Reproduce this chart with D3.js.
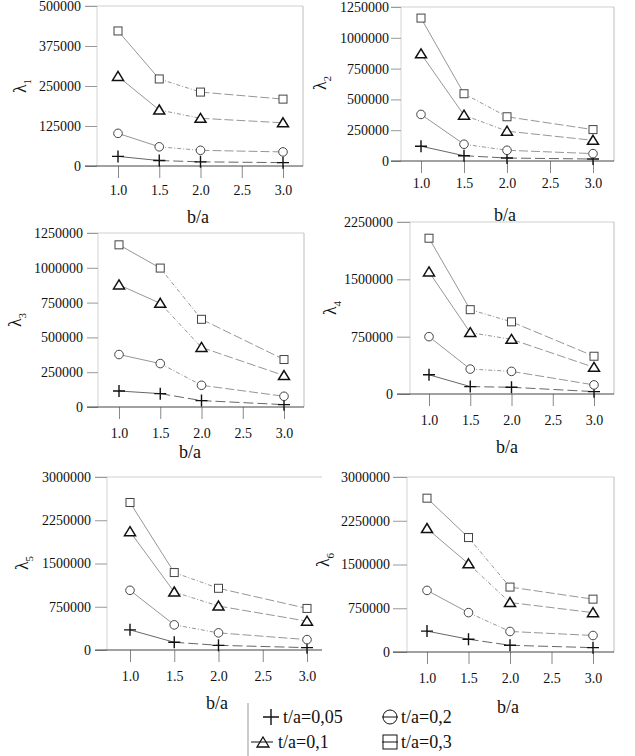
<!DOCTYPE html>
<html>
<head>
<meta charset="utf-8">
<script src="https://cdn.jsdelivr.net/npm/d3@7"></script>
<style>
  body { margin: 0; background: #fff; }
  svg { display: block; }
  svg text { font-family: "Liberation Serif", "Times New Roman", "DejaVu Serif", serif !important; }
</style>
</head>
<body>
<div id="chart"></div>
<script>
// b/a values on the x axis and the tick labels
const xValues = [1.0, 1.5, 2.0, 3.0];
const xTicks = [1.0, 1.5, 2.0, 2.5, 3.0];

// series order: t/a=0,05 (+), t/a=0,1 (triangle), t/a=0,2 (circle), t/a=0,3 (square)
const seriesNames = ["t/a=0,05", "t/a=0,1", "t/a=0,2", "t/a=0,3"];
const seriesMarks = ["plus", "triangle", "circle", "square"];

const lambda1 = [
  [30000, 17000, 13000, 10500],
  [280000, 175000, 149000, 135000],
  [102000, 60000, 49000, 44000],
  [422000, 272000, 231000, 209000]
];
const lambda2 = [
  [120000, 43000, 24000, 16000],
  [870000, 372000, 242000, 168000],
  [378000, 136000, 87000, 60000],
  [1160000, 546000, 359000, 255000]
];
const lambda3 = [
  [115000, 96000, 46000, 17000],
  [877000, 745000, 428000, 226000],
  [377000, 312000, 156000, 77000],
  [1165000, 998000, 630000, 341000]
];
const lambda4 = [
  [251000, 97000, 88000, 31000],
  [1597000, 803000, 715000, 349000],
  [750000, 326000, 296000, 119000],
  [2038000, 1103000, 944000, 494000]
];
const lambda5 = [
  [349000, 134000, 81000, 41000],
  [2052000, 1006000, 762000, 500000],
  [1035000, 436000, 297000, 180000],
  [2558000, 1343000, 1070000, 721000]
];
const lambda6 = [
  [358000, 219000, 115000, 75000],
  [2117000, 1512000, 848000, 675000],
  [1056000, 675000, 352000, 283000],
  [2637000, 1962000, 1113000, 906000]
];

const yTicks1 = [0, 125000, 250000, 375000, 500000];
const yTicks23 = [0, 250000, 500000, 750000, 1000000, 1250000];
const yTicks4 = [0, 750000, 1500000, 2250000];
const yTicks56 = [0, 750000, 1500000, 2250000, 3000000];

// panel layout (pixels) - kept apart from the data
const PANELS = [
  {data: lambda1, ticks: yTicks1, sub: "1", xr: [118, 283], yr: [166, 6], left: 97, right: 303, tick: 12, pad: 4, xpad: 7, lab: [20, 86], ba: [198, 217]},
  {data: lambda2, ticks: yTicks23, sub: "2", xr: [421, 593], yr: [161, 7], left: 401, right: 614, tick: 10, pad: 2, xpad: 5, lab: [320, 83], ba: [505, 215]},
  {data: lambda3, ticks: yTicks23, sub: "3", xr: [119, 284], yr: [407, 233], left: 98, right: 304, tick: 11, pad: 4, xpad: 9, lab: [15, 320], ba: [190, 452]},
  {data: lambda4, ticks: yTicks4, sub: "4", xr: [429, 594], yr: [394, 222], left: 410, right: 614, tick: 13, pad: 4, xpad: 9, lab: [330, 308], ba: [507, 447]},
  {data: lambda5, ticks: yTicks56, sub: "5", xr: [130, 307], yr: [650, 477], left: 107, right: 322, tick: 12, pad: 4, xpad: 9, lab: [22, 563], ba: [217, 703], noRight: true},
  {data: lambda6, ticks: yTicks56, sub: "6", xr: [427, 593], yr: [652, 477], left: 407, right: 614, tick: 14, pad: 3, xpad: 9, lab: [323, 560], ba: [508, 707]}
];

const segDash = [null, "4,2,1,2", "9,3"];

const svg = d3.select("#chart").append("svg")
  .attr("width", 635)
  .attr("height", 756);

function drawMark(g, type, x, y) {
  if (type == "plus") {
    g.append("path").attr("d", `M${x-6},${y}H${x+6}M${x},${y-6}V${y+6}`)
      .attr("stroke", "#111").attr("stroke-width", 1.4).attr("fill", "none");
  } else if (type == "triangle") {
    g.append("path").attr("d", `M${x},${y-5}L${x+5.5},${y+4}L${x-5.5},${y+4}Z`)
      .attr("stroke", "#111").attr("stroke-width", 1.5).attr("fill", "#fff");
  } else if (type == "circle") {
    g.append("circle").attr("cx", x).attr("cy", y).attr("r", 4.3)
      .attr("stroke", "#444").attr("stroke-width", 1).attr("fill", "#fff");
  } else {
    g.append("rect").attr("x", x-4).attr("y", y-4).attr("width", 8).attr("height", 8)
      .attr("stroke", "#444").attr("stroke-width", 1).attr("fill", "#fff");
  }
}

PANELS.forEach((p) => {
  const X = d3.scaleLinear().domain([1, 3]).range(p.xr);
  const Y = d3.scaleLinear().domain([0, d3.max(p.ticks)]).range(p.yr);
  const g = svg.append("g");
  const y0 = Y(0), yTop = Y(d3.max(p.ticks));

  // light frame
  g.append("line").attr("x1", p.left).attr("x2", p.left).attr("y1", yTop).attr("y2", y0)
    .attr("stroke", "#d4d4d4");
  g.append("line").attr("x1", p.left - p.tick).attr("x2", p.right).attr("y1", yTop).attr("y2", yTop)
    .attr("stroke", "#cfcfcf");
  if (!p.noRight) {
    g.append("line").attr("x1", p.right).attr("x2", p.right).attr("y1", yTop).attr("y2", y0)
      .attr("stroke", "#bdbdbd");
  }

  // y axis
  const ya = g.append("g")
    .attr("transform", `translate(${p.left},0)`)
    .call(d3.axisLeft(Y).tickValues(p.ticks).tickSize(p.tick).tickPadding(p.pad).tickFormat(d3.format("d")));
  ya.attr("font-family", null);
  ya.select(".domain").remove();
  ya.selectAll("line").attr("stroke", "#999");
  ya.selectAll("text").attr("font-size", "14px").attr("fill", "#111");

  // x axis
  const xa = g.append("g")
    .attr("transform", `translate(0,${y0})`)
    .call(d3.axisBottom(X).tickValues(xTicks).tickSize(12).tickPadding(p.xpad).tickFormat(d3.format(".1f")));
  xa.attr("font-family", null);
  xa.select(".domain").remove();
  xa.selectAll("line").attr("stroke", "#888");
  xa.selectAll("text").attr("font-size", "14px").attr("fill", "#111");
  g.append("line").attr("x1", p.left - p.tick).attr("x2", p.right).attr("y1", y0).attr("y2", y0)
    .attr("stroke", "#444");

  // lines + marks
  p.data.forEach((vals, si) => {
    for (let i = 0; i < vals.length - 1; i++) {
      g.append("line")
        .attr("x1", X(xValues[i])).attr("y1", Y(vals[i]))
        .attr("x2", X(xValues[i+1])).attr("y2", Y(vals[i+1]))
        .attr("stroke", si == 0 ? "#555" : "#8a8a8a")
        .attr("stroke-width", 0.9)
        .attr("stroke-dasharray", si == 0 && i > 0 ? "10,4" : segDash[i]);
    }
    vals.forEach((v, i) => drawMark(g, seriesMarks[si], X(xValues[i]), Y(v)));
  });

  // labels
  const lt = g.append("text")
    .attr("transform", `translate(${p.lab[0]},${p.lab[1]}) rotate(-90)`)
    .attr("text-anchor", "middle").attr("dy", "0.35em")
    .attr("font-size", "18px").attr("fill", "#111");
  lt.append("tspan").text("λ");
  lt.append("tspan").attr("font-size", "11px").attr("dy", "0.45em").text(p.sub);

  g.append("text").attr("x", p.ba[0]).attr("y", p.ba[1]).attr("dy", "0.35em")
    .attr("text-anchor", "middle").attr("font-size", "18px").attr("fill", "#111").text("b/a");
});

// legend
const lg = svg.append("g");
lg.append("line").attr("x1", 248).attr("x2", 248).attr("y1", 703).attr("y2", 756).attr("stroke", "#999");
const legendPos = [[271, 717, 283], [263, 742, 278], [390, 717, 401], [390, 742, 401]];
seriesNames.forEach((name, i) => {
  const [mx, my, tx] = legendPos[i];
  if (i > 0) {
    lg.append("line").attr("x1", mx - (i == 1 ? 12 : 8)).attr("x2", mx + (i == 1 ? 10 : 8))
      .attr("y1", my).attr("y2", my).attr("stroke", "#111").attr("stroke-width", 1);
  }
  if (i == 0) {
    lg.append("path").attr("d", `M${mx-8},${my}H${mx+8}M${mx},${my-8}V${my+8}`)
      .attr("stroke", "#111").attr("stroke-width", 1.4);
  } else if (i == 1) {
    lg.append("path").attr("d", `M${mx},${my-5}L${mx+6},${my+5}L${mx-6},${my+5}Z`)
      .attr("stroke", "#111").attr("stroke-width", 1.3).attr("fill", "none");
  } else if (i == 2) {
    lg.append("circle").attr("cx", mx).attr("cy", my).attr("r", 7)
      .attr("stroke", "#111").attr("fill", "none");
  } else {
    lg.append("rect").attr("x", mx - 7).attr("y", my - 7).attr("width", 14).attr("height", 14)
      .attr("stroke", "#111").attr("fill", "none");
  }
  lg.append("text").attr("x", tx).attr("y", my).attr("dy", "0.35em")
    .attr("font-size", "18px").attr("fill", "#111").text(name);
});
</script>
</body>
</html>
